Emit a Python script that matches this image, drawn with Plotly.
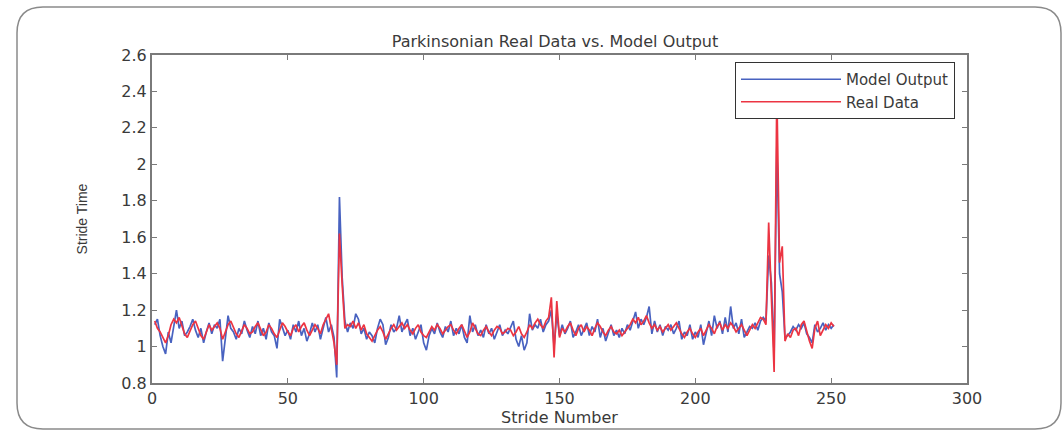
import plotly.graph_objects as go

strides = list(range(1, 252))

model_output = [
    1.12, 1.15, 1.06, 1.00, 0.96, 1.08, 1.02, 1.12, 1.20, 1.10,
    1.14, 1.06, 1.08, 1.11, 1.15, 1.09, 1.05, 1.10, 1.02, 1.08,
    1.13, 1.07, 1.12, 1.10, 1.15, 0.92, 1.06, 1.17, 1.10, 1.08,
    1.04, 1.10, 1.07, 1.14, 1.09, 1.05, 1.11, 1.07, 1.14, 1.06,
    1.10, 1.04, 1.13, 1.08, 1.06, 0.99, 1.15, 1.10, 1.06, 1.09,
    1.04, 1.12, 1.08, 1.14, 1.06, 1.10, 1.03, 1.07, 1.13, 1.08,
    1.12, 1.04, 1.10, 1.16, 1.08, 1.12, 1.05, 0.83, 1.82, 1.38,
    1.14, 1.08, 1.13, 1.10, 1.18, 1.15, 1.07, 1.10, 1.04, 1.08,
    1.06, 1.02, 1.10, 1.15, 1.12, 1.01, 1.05, 1.12, 1.08, 1.10,
    1.17, 1.08, 1.12, 1.15, 1.06, 1.10, 1.04, 1.08, 1.12, 1.02,
    0.98, 1.06, 1.10, 1.07, 1.13, 1.08, 1.05, 1.11, 1.08, 1.14,
    1.06, 1.10, 1.07, 1.12, 1.05, 1.02, 1.17, 1.08, 1.12, 1.06,
    1.09, 1.05, 1.12, 1.07, 1.10, 1.04, 1.08, 1.12, 1.06, 1.09,
    1.07, 1.11, 1.14, 1.04, 1.00, 1.06, 0.98, 1.02, 1.18, 1.09,
    1.12, 1.10, 1.15, 1.08, 1.12, 1.14, 1.20, 1.00, 1.18, 1.06,
    1.12, 1.07, 1.10, 1.14, 1.05, 1.08, 1.12, 1.06, 1.10, 1.13,
    1.06, 1.11, 1.08, 1.15, 1.05, 1.10, 1.03, 1.08, 1.12, 1.06,
    1.09, 1.05, 1.10, 1.07, 1.12, 1.09, 1.14, 1.19, 1.10, 1.15,
    1.12, 1.16, 1.22, 1.07, 1.14, 1.08, 1.12, 1.06, 1.11, 1.09,
    1.12, 1.07, 1.10, 1.14, 1.04, 1.08, 1.06, 1.12, 1.04, 1.08,
    1.05, 1.12, 1.01, 1.08, 1.14, 1.06, 1.17, 1.10, 1.14, 1.07,
    1.16, 1.08, 1.22, 1.10, 1.13, 1.07, 1.15, 1.05, 1.08, 1.11,
    1.10, 1.13, 1.09, 1.14, 1.16, 1.14, 1.50, 1.35, 0.95, 2.10,
    1.40, 1.30, 1.05, 1.06, 1.08, 1.11, 1.09, 1.12, 1.10, 1.13,
    1.07, 1.05, 1.02, 1.12, 1.08, 1.10, 1.13, 1.09, 1.12, 1.10,
    1.12,
]

real_data = [
    1.14, 1.10, 1.08, 1.05, 1.02, 1.06, 1.12, 1.15, 1.13, 1.16,
    1.12, 1.07, 1.05, 1.09, 1.12, 1.14, 1.10, 1.06, 1.04, 1.08,
    1.12, 1.09, 1.11, 1.13, 1.10, 1.04, 1.08, 1.12, 1.14, 1.10,
    1.07, 1.05, 1.09, 1.12, 1.10, 1.07, 1.08, 1.11, 1.13, 1.09,
    1.06, 1.08, 1.12, 1.10, 1.07, 1.05, 1.09, 1.13, 1.11, 1.08,
    1.06, 1.10, 1.12, 1.08, 1.11, 1.13, 1.09, 1.06, 1.09, 1.12,
    1.10, 1.07, 1.12, 1.15, 1.18, 1.10, 1.02, 0.90, 1.62, 1.34,
    1.10, 1.12, 1.11, 1.14, 1.10, 1.13, 1.09, 1.12, 1.07, 1.05,
    1.03, 1.06, 1.09, 1.11, 1.08, 1.04, 1.07, 1.10, 1.12, 1.09,
    1.11, 1.13, 1.10, 1.12, 1.09, 1.07, 1.10, 1.12, 1.08, 1.06,
    1.05, 1.08, 1.11, 1.09, 1.12, 1.10, 1.07, 1.09, 1.11, 1.12,
    1.09, 1.07, 1.10, 1.12, 1.08, 1.05, 1.08, 1.13, 1.10, 1.07,
    1.06, 1.09, 1.11, 1.08, 1.06, 1.09, 1.11, 1.10, 1.07, 1.08,
    1.10, 1.09, 1.06, 1.08, 1.11, 1.07, 1.05, 1.08, 1.12, 1.10,
    1.13, 1.15, 1.12, 1.10, 1.14, 1.16, 1.27, 0.94, 1.25, 1.05,
    1.10, 1.08, 1.11, 1.13, 1.09, 1.06, 1.10, 1.12, 1.08, 1.11,
    1.09, 1.06, 1.10, 1.13, 1.11, 1.08, 1.06, 1.09, 1.11, 1.08,
    1.07, 1.09, 1.06, 1.08, 1.10, 1.12, 1.15, 1.13, 1.16, 1.12,
    1.14, 1.17, 1.13, 1.10, 1.12, 1.09, 1.11, 1.08, 1.10, 1.12,
    1.09, 1.11, 1.13, 1.10, 1.07, 1.05, 1.08, 1.10, 1.07, 1.05,
    1.08, 1.10, 1.06, 1.09, 1.12, 1.10, 1.07, 1.11, 1.13, 1.09,
    1.12, 1.10, 1.13, 1.11, 1.08, 1.10, 1.12, 1.09, 1.06, 1.09,
    1.12, 1.10, 1.13, 1.16, 1.15, 1.12, 1.68, 1.30, 0.86, 2.40,
    1.46, 1.55, 1.03, 1.07, 1.05, 1.09, 1.10, 1.06, 1.12, 1.14,
    1.08, 1.03, 0.99, 1.10, 1.14, 1.06, 1.09, 1.12, 1.10, 1.13,
    1.11,
]

x_ticks = [0, 50, 100, 150, 200, 250, 300]
y_ticks = [0.8, 1.0, 1.2, 1.4, 1.6, 1.8, 2.0, 2.2, 2.4, 2.6]
y_tick_labels = ["0.8", "1", "1.2", "1.4", "1.6", "1.8", "2", "2.2", "2.4", "2.6"]

W, H = 1063, 432
L, R, T, B = 152, 967, 55, 383
FONT = "DejaVu Sans, Liberation Sans, Arial"
TXT = "#3a3a3a"

fig = go.Figure()
fig.add_trace(go.Scatter(x=strides, y=model_output, mode="lines", name="Model Output",
                         line=dict(color="#4862c0", width=1.7)))
fig.add_trace(go.Scatter(x=strides, y=real_data, mode="lines", name="Real Data",
                         line=dict(color="#ec3442", width=1.7)))


def px(xp, yp):
    return (xp - L) / (R - L), (B - yp) / (B - T)


def P(a, b):
    u, v = px(a, b)
    return f"{u:.5f},{v:.5f}"


# rounded frame around the figure
x0, y0, x1, y1, r = 17, 7, 1061, 429, 26
path = (f"M {P(x0 + r, y0)} L {P(x1 - r, y0)} Q {P(x1, y0)} {P(x1, y0 + r)} "
        f"L {P(x1, y1 - r)} Q {P(x1, y1)} {P(x1 - r, y1)} "
        f"L {P(x0 + r, y1)} Q {P(x0, y1)} {P(x0, y1 - r)} "
        f"L {P(x0, y0 + r)} Q {P(x0, y0)} {P(x0 + r, y0)} Z")
fig.add_shape(type="path", path=path, xref="paper", yref="paper",
              line=dict(color="#8a8a8a", width=1.5), layer="below")

axis_common = dict(showline=True, linecolor="#7a7a7a", linewidth=2, mirror="ticks",
                   ticks="inside", ticklen=5, tickcolor="#7a7a7a", showgrid=False,
                   zeroline=False, tickfont=dict(family=FONT, size=16, color=TXT))

fig.update_layout(
    width=W, height=H,
    margin=dict(l=L, r=W - R, t=T, b=H - B),
    paper_bgcolor="white", plot_bgcolor="white",
    title=dict(text="Parkinsonian Real Data vs. Model Output", x=555 / W, xanchor="center",
               y=1 - 41 / H, yanchor="middle",
               font=dict(family=FONT, size=16, color=TXT)),
    xaxis=dict(range=[0, 300], tickvals=x_ticks,
               title=dict(text="Stride Number", standoff=0,
                          font=dict(family=FONT, size=16, color=TXT)),
               **axis_common),
    yaxis=dict(range=[0.8, 2.6], tickvals=y_ticks, ticktext=y_tick_labels,
               title=dict(text="Stride Time", standoff=30,
                          font=dict(family="Liberation Sans, Arial", size=14, color=TXT)),
               **axis_common),
    legend=dict(x=px(955, 0)[0], xanchor="right", y=px(0, 62)[1], yanchor="top",
                bgcolor="white", bordercolor="#333", borderwidth=1,
                itemwidth=100, tracegroupgap=0,
                font=dict(family=FONT, size=15, color=TXT)),
    showlegend=True,
)

fig.write_html("out.html", config={"displayModeBar": False},
               post_script="document.body.style.margin='0';")
